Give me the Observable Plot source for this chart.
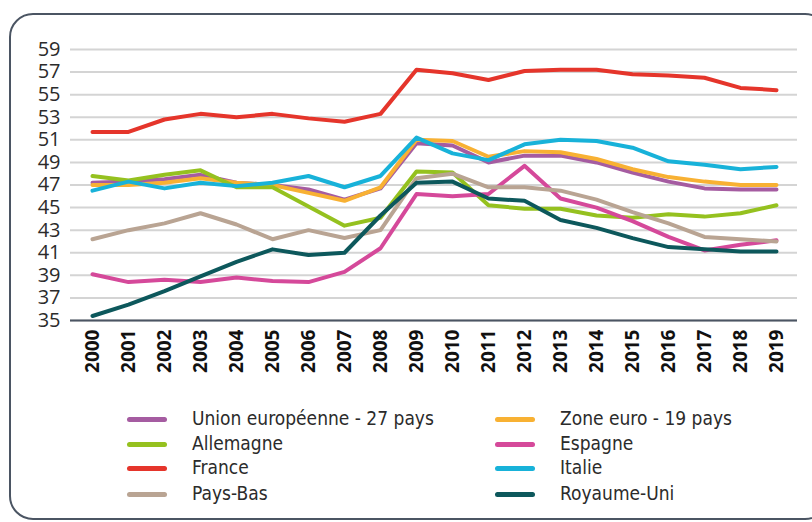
<!DOCTYPE html>
<html><head><meta charset="utf-8">
<script src="https://cdn.jsdelivr.net/npm/d3@7"></script>
<script src="https://cdn.jsdelivr.net/npm/@observablehq/plot@0.6"></script>
<style>
html,body{margin:0;padding:0;background:#fff;width:812px;height:522px;overflow:hidden;position:relative;font-family:"Open Sans",sans-serif;}
#frame{position:absolute;left:9px;top:13px;width:820px;height:507px;border:2px solid #4b5563;border-radius:24px;box-sizing:border-box;}
#chart{position:absolute;left:0;top:0;}
.leg{position:absolute;font-family:"Liberation Sans Narrow","DejaVu Sans Condensed",sans-serif;font-size:19px;color:#2b2b2b;line-height:20px;}
.sw{position:absolute;height:5px;width:40px;border-radius:3px;}
</style></head>
<body>
<div id="frame"></div>
<div id="chart"></div>
<div id="legend"></div>
<script>
const years = [2000,2001,2002,2003,2004,2005,2006,2007,2008,2009,2010,2011,2012,2013,2014,2015,2016,2017,2018,2019];
const seriesNames = ["Union européenne - 27 pays","Zone euro - 19 pays","Allemagne","Espagne","France","Italie","Pays-Bas","Royaume-Uni"];
const colors = ["#a55ca1","#f8b133","#95c11f","#d5499a","#e5352b","#18b2d9","#b9a493","#0d585c"];
const ue27    = [47.2,47.3,47.5,47.9,47.2,47.0,46.6,45.7,46.7,50.7,50.5,49.0,49.6,49.6,49.0,48.1,47.3,46.7,46.6,46.6];
const zoneEuro= [47.0,47.0,47.2,47.6,47.2,47.0,46.3,45.6,46.8,51.0,50.9,49.5,50.0,49.9,49.3,48.4,47.7,47.3,47.0,47.0];
const allemagne=[47.8,47.4,47.9,48.3,46.8,46.8,45.1,43.4,44.1,48.2,48.1,45.2,44.9,44.9,44.3,44.1,44.4,44.2,44.5,45.2];
const espagne = [39.1,38.4,38.6,38.4,38.8,38.5,38.4,39.3,41.4,46.2,46.0,46.2,48.7,45.8,45.0,43.8,42.4,41.2,41.7,42.1];
const france  = [51.7,51.7,52.8,53.3,53.0,53.3,52.9,52.6,53.3,57.2,56.9,56.3,57.1,57.2,57.2,56.8,56.7,56.5,55.6,55.4];
const italie  = [46.5,47.3,46.7,47.2,46.9,47.2,47.8,46.8,47.8,51.2,49.8,49.2,50.6,51.0,50.9,50.3,49.1,48.8,48.4,48.6];
const paysBas = [42.2,43.0,43.6,44.5,43.5,42.2,43.0,42.3,43.0,47.6,48.0,46.8,46.8,46.5,45.7,44.6,43.6,42.4,42.2,42.0];
const royaumeUni=[35.4,36.4,37.6,38.9,40.2,41.3,40.8,41.0,44.3,47.2,47.3,45.8,45.6,43.9,43.2,42.3,41.5,41.3,41.1,41.1];
const yTicks = [35,37,39,41,43,45,47,49,51,53,55,57,59];

const seriesValues = [ue27,zoneEuro,allemagne,espagne,france,italie,paysBas,royaumeUni];
const data = [];
seriesNames.forEach((name,i)=>years.forEach((y,j)=>data.push({serie:name,year:String(y),value:seriesValues[i][j]})));

const chart = Plot.plot({
  width: 812,
  height: 390,
  marginLeft: 70,
  marginRight: 15,
  marginTop: 49,
  marginBottom: 70,
  style: {fontFamily: "'Open Sans', sans-serif", background: "transparent"},
  x: {type: "point", domain: years.map(String), padding: 0.5, label: null},
  y: {domain: [35,59], label: null},
  color: {domain: seriesNames, range: colors},
  marks: [
    Plot.gridY(yTicks, {stroke: "#d4d4d4", strokeOpacity: 1, strokeWidth: 2}),
    Plot.axisY(yTicks, {tickSize: 0, tickPadding: 10, fontSize: 20, fill: "#2b2b2b", label: null}),
    Plot.axisX({tickSize: 0, tickPadding: 9, tickRotate: -90, fontSize: 19, fontWeight: "bold", fill: "#111", label: null}),
    Plot.lineY(data, {x: "year", y: "value", z: "serie", stroke: "serie", strokeWidth: 4, strokeLinejoin: "round"}),
    Plot.ruleY([35], {stroke: "#4b5563", strokeWidth: 2})
  ]
});
document.getElementById("chart").appendChild(chart);

const leg = document.getElementById("legend");
const rowY = [419,444,468,494];
seriesNames.forEach((name,i)=>{
  const col = i % 2, row = Math.floor(i/2);
  const sx = col ? 495 : 127, tx = col ? 560 : 192;
  const sw = document.createElement("div");
  sw.className = "sw"; sw.style.left = sx+"px"; sw.style.top = (rowY[row]-2.5)+"px"; sw.style.background = colors[i];
  leg.appendChild(sw);
  const t = document.createElement("div");
  t.className = "leg"; t.style.left = tx+"px"; t.style.top = (rowY[row]-11)+"px"; t.textContent = name;
  leg.appendChild(t);
});
</script>
</body></html>
